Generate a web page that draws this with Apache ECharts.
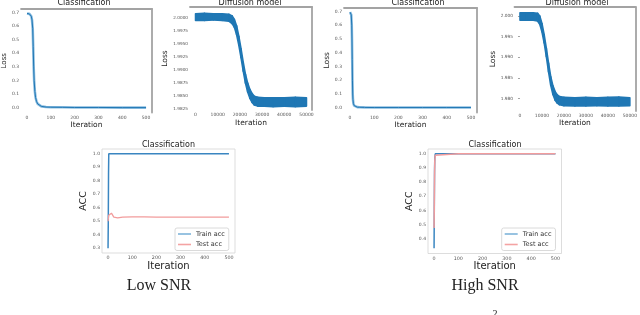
<!DOCTYPE html>
<html><head><meta charset="utf-8">
<script src="https://cdn.jsdelivr.net/npm/echarts@6/dist/echarts.min.js"></script>
<style>html,body{margin:0;padding:0;background:#fff;}#c{width:640px;height:315px;}</style>
</head><body><div id="c"></div>
<script>
// ---------- data ----------
// Low SNR, classification loss
const lowLossIter = [0, 5, 10, 15, 18, 21, 24, 26, 28, 30, 33, 36, 40, 45, 50, 60, 80, 100, 150, 200, 300, 400, 500];
const lowLoss     = [0.692, 0.691, 0.689, 0.683, 0.672, 0.645, 0.58, 0.45, 0.30, 0.20, 0.12, 0.075, 0.046, 0.028, 0.018, 0.010, 0.005, 0.004, 0.003, 0.002, 0.002, 0.001, 0.001];
// Low SNR, diffusion model loss (noise band: upper / lower envelope)
const lowDiffIter  = [0, 4000, 8000, 12000, 15000, 16500, 17500, 18500, 19500, 20500, 21500, 22500, 23500, 24500, 25500, 26500, 28000, 31000, 35000, 40000, 45000, 50000];
const lowDiffUpper = [2.0007, 2.0008, 2.0007, 2.0007, 2.0006, 2.0003, 1.9996, 1.9984, 1.9964, 1.9940, 1.9914, 1.9891, 1.9874, 1.9862, 1.9854, 1.9849, 1.9847, 1.9846, 1.9846, 1.9846, 1.9847, 1.9846];
const lowDiffLower = [1.9994, 1.9994, 1.9995, 1.9994, 1.9993, 1.9988, 1.9981, 1.9967, 1.9947, 1.9923, 1.9897, 1.9874, 1.9857, 1.9845, 1.9837, 1.9832, 1.9830, 1.9830, 1.9829, 1.9830, 1.9829, 1.9830];
// High SNR, classification loss
const highLossIter = [0, 3, 5, 7, 8, 9, 10, 11, 12, 14, 17, 20, 25, 30, 40, 60, 100, 200, 300, 400, 500];
const highLoss     = [0.695, 0.69, 0.675, 0.60, 0.50, 0.35, 0.20, 0.10, 0.06, 0.03, 0.015, 0.009, 0.005, 0.004, 0.003, 0.002, 0.001, 0.001, 0.001, 0.001, 0.001];
// High SNR, diffusion model loss
const highDiffIter  = [0, 3000, 6000, 8000, 9000, 10000, 11000, 12000, 13000, 14000, 15000, 16000, 17000, 18000, 20000, 25000, 30000, 35000, 40000, 45000, 50000];
const highDiffUpper = [2.0008, 2.0008, 2.0008, 2.0007, 2.0000, 1.9982, 1.9955, 1.9922, 1.9886, 1.9853, 1.9831, 1.9817, 1.9809, 1.9805, 1.9803, 1.9802, 1.9803, 1.9802, 1.9803, 1.9804, 1.9802];
const highDiffLower = [1.9990, 1.9990, 1.9990, 1.9988, 1.9980, 1.9962, 1.9935, 1.9902, 1.9865, 1.9832, 1.9810, 1.9796, 1.9789, 1.9785, 1.9783, 1.9782, 1.9782, 1.9783, 1.9782, 1.9782, 1.9783];
// Low SNR accuracy
const lowTrainIter = [0, 1, 2, 3, 100, 200, 300, 400, 500];
const lowTrainAcc  = [0.30, 0.50, 0.85, 1.0, 1.0, 1.0, 1.0, 1.0, 1.0];
const lowTestIter  = [0, 3, 6, 10, 14, 18, 24, 30, 40, 60, 100, 150, 200, 250, 300, 400, 500];
const lowTestAcc   = [0.50, 0.545, 0.54, 0.55, 0.56, 0.55, 0.53, 0.522, 0.525, 0.53, 0.533, 0.532, 0.531, 0.530, 0.531, 0.531, 0.531];
// High SNR accuracy
const highTrainIter = [0, 1, 2, 3, 5, 100, 200, 300, 400, 500];
const highTrainAcc  = [0.333, 0.62, 0.88, 0.97, 1.0, 1.0, 1.0, 1.0, 1.0, 1.0];
const highTestIter  = [0, 1, 2, 3, 5, 7, 100, 200, 300, 400, 500];
const highTestAcc   = [0.476, 0.65, 0.85, 0.95, 0.99, 1.0, 1.0, 1.0, 1.0, 1.0, 1.0];
// tick labels
const iterTicks500 = [0, 100, 200, 300, 400, 500];
const iterTicks50k = [0, 10000, 20000, 30000, 40000, 50000];
const lossTicks    = [0, 0.1, 0.2, 0.3, 0.4, 0.5, 0.6, 0.7];
const lowDiffTicks = [1.9825, 1.9850, 1.9875, 1.9900, 1.9925, 1.9950, 1.9975, 2.0000];
const highDiffTicks= [1.980, 1.985, 1.990, 1.995, 2.000];
const lowAccTicks  = [0.3, 0.4, 0.5, 0.6, 0.7, 0.8, 0.9, 1.0];
const highAccTicks = [0.4, 0.5, 0.6, 0.7, 0.8, 0.9, 1.0];

// ---------- helpers ----------
const FONT = 'DejaVu Sans';
const pairs = (xs, ys) => xs.map((x, i) => [x, ys[i]]);
const BLUE = '#1f77b4', TRAIN = '#3a86c1', TEST = '#f29c9c';

const grids = [
  {left: 18,    top: 9,   width: 134,   height: 103.5},
  {left: 190,   top: 7,   width: 122,   height: 103},
  {left: 344,   top: 8,   width: 133,   height: 104.5},
  {left: 514.5, top: 7,   width: 123,   height: 104},
  {left: 102,   top: 149, width: 133,   height: 104, show: true, borderColor: '#d4d4d4', borderWidth: 0.8},
  {left: 428,   top: 149, width: 133.5, height: 104.5, show: true, borderColor: '#d4d4d4', borderWidth: 0.8}
];

function xMain(gi, min, max, ticks, name, nameSize, nameGap, labSize) {
  return {gridIndex: gi, type: 'value', min, max, name, nameLocation: 'middle', nameGap,
    nameTextStyle: {fontFamily: FONT, fontSize: nameSize, color: '#222'},
    axisLine: {show: false}, axisTick: {show: false}, splitLine: {show: false},
    axisLabel: {customValues: ticks, fontSize: labSize, color: '#555', margin: 2.5, fontFamily: FONT,
      formatter: v => String(Math.round(v))}};
}
function yMain(gi, min, max, ticks, dec, name, nameSize, nameGap, labSize, tick) {
  return {gridIndex: gi, type: 'value', min, max, name, nameLocation: 'middle', nameGap,
    nameTextStyle: {fontFamily: FONT, fontSize: nameSize, color: '#222'},
    axisLine: {show: false}, splitLine: {show: false},
    axisTick: tick ? {show: true, customValues: ticks, length: 2, lineStyle: {color: '#666', width: 0.6}} : {show: false},
    axisLabel: {customValues: ticks, fontSize: labSize, color: '#555', margin: tick ? 1.5 : 2, fontFamily: FONT,
      formatter: v => v.toFixed(dec)}};
}
function spineX(gi, min, max) {
  return {gridIndex: gi, type: 'value', position: 'top', min, max,
    axisLine: {show: true, onZero: false, lineStyle: {color: '#a3a3a3', width: 1.8}},
    axisTick: {show: false}, axisLabel: {show: false}, splitLine: {show: false}};
}
function spineY(gi, min, max) {
  return {gridIndex: gi, type: 'value', position: 'right', min, max,
    axisLine: {show: true, onZero: false, lineStyle: {color: '#a3a3a3', width: 1.8}},
    axisTick: {show: false}, axisLabel: {show: false}, splitLine: {show: false}};
}

const xAxis = [
  xMain(0, -25, 525, iterTicks500, 'Iteration', 7.5, 7, 4.5),
  xMain(1, -2500, 52500, iterTicks50k, 'Iteration', 7.5, 9, 4.5),
  xMain(2, -25, 525, iterTicks500, 'Iteration', 7.5, 8, 4.5),
  xMain(3, -2500, 52500, iterTicks50k, 'Iteration', 7.5, 8, 4.5),
  xMain(4, -25, 525, iterTicks500, 'Iteration', 10, 7, 4.8),
  xMain(5, -25, 525, iterTicks500, 'Iteration', 10, 7, 4.8),
  spineX(0, -25, 525), spineX(1, -2500, 52500), spineX(2, -25, 525), spineX(3, -2500, 52500)
];
const yAxis = [
  yMain(0, -0.035, 0.725, lossTicks, 1, 'Loss', 7, 9.5, 4.5),
  yMain(1, 1.98225, 2.0020, lowDiffTicks, 4, 'Loss', 7.5, 18, 4.2),
  yMain(2, -0.035, 0.725, lossTicks, 1, 'Loss', 7.5, 9.5, 4.5),
  yMain(3, 1.9770, 2.0022, highDiffTicks, 3, 'Loss', 7.5, 17, 4.3, true),
  yMain(4, 0.265, 1.035, lowAccTicks, 1, 'ACC', 9.5, 10.5, 4.5),
  yMain(5, 0.2965, 1.0335, highAccTicks, 1, 'ACC', 9.5, 10, 4.5),
  spineY(0, -0.035, 0.725), spineY(1, 1.98225, 2.0020), spineY(2, -0.035, 0.725), spineY(3, 1.9770, 2.0022)
];

// noise band drawn as quads between the upper and lower envelopes
function band(gi, xs, upper, lower) {
  return {type: 'custom', xAxisIndex: gi, yAxisIndex: gi, silent: true, clip: true,
    data: xs.map((x, i) => [x, upper[i], lower[i]]),
    encode: {x: 0, y: [1, 2]},
    renderItem: (params, api) => {
      const i = params.dataIndex;
      if (i >= xs.length - 1) return null;
      const pts = [api.coord([xs[i], upper[i]]), api.coord([xs[i + 1], upper[i + 1]]),
                   api.coord([xs[i + 1], lower[i + 1]]), api.coord([xs[i], lower[i]])];
      return {type: 'polygon', shape: {points: pts},
        style: {fill: BLUE, stroke: BLUE, lineWidth: 1.6, lineJoin: 'round'}};
    }};
}

const series = [
  {type: 'line', xAxisIndex: 0, yAxisIndex: 0, symbol: 'none', data: pairs(lowLossIter, lowLoss), lineStyle: {color: '#8cbde0', width: 2.6}},
  {type: 'line', xAxisIndex: 0, yAxisIndex: 0, symbol: 'none', data: pairs(lowLossIter, lowLoss), lineStyle: {color: BLUE, width: 1}},
  band(1, lowDiffIter, lowDiffUpper, lowDiffLower),
  {type: 'line', xAxisIndex: 2, yAxisIndex: 2, symbol: 'none', data: pairs(highLossIter, highLoss), lineStyle: {color: '#8cbde0', width: 2.6}},
  {type: 'line', xAxisIndex: 2, yAxisIndex: 2, symbol: 'none', data: pairs(highLossIter, highLoss), lineStyle: {color: BLUE, width: 1}},
  band(3, highDiffIter, highDiffUpper, highDiffLower),
  {name: 'Train acc', type: 'line', xAxisIndex: 4, yAxisIndex: 4, symbol: 'none', data: pairs(lowTrainIter, lowTrainAcc), color: TRAIN, lineStyle: {color: TRAIN, width: 1.5}},
  {name: 'Test acc', type: 'line', xAxisIndex: 4, yAxisIndex: 4, symbol: 'none', data: pairs(lowTestIter, lowTestAcc), color: TEST, lineStyle: {color: TEST, width: 1.3}},
  {name: 'Train acc', type: 'line', xAxisIndex: 5, yAxisIndex: 5, symbol: 'none', data: pairs(highTrainIter, highTrainAcc), color: TRAIN, lineStyle: {color: TRAIN, width: 1.5}},
  {name: 'Test acc', type: 'line', xAxisIndex: 5, yAxisIndex: 5, symbol: 'none', data: pairs(highTestIter, highTestAcc), color: TEST, lineStyle: {color: TEST, width: 1.5}}
];

function legend(left) {
  return {left, top: 228, orient: 'vertical', icon: 'rect', itemWidth: 13, itemHeight: 1.6, itemGap: 3.5,
    padding: [2.5, 4, 2.5, 3], backgroundColor: '#fff', borderColor: '#d0d0d0', borderWidth: 0.8, borderRadius: 2,
    selectedMode: false,
    data: [{name: 'Train acc', itemStyle: {color: '#7fb4da'}}, {name: 'Test acc', itemStyle: {color: '#f4a3a3'}}],
    textStyle: {fontFamily: FONT, fontSize: 6.5, color: '#333', padding: [0, 0, 0, 0]}};
}

function ttl(text, x, top, size, family) {
  return {text, left: x, top, textAlign: 'center', padding: 0,
    textStyle: {fontFamily: family || FONT, fontSize: size, fontWeight: 'normal', color: '#222'}};
}

const chart = echarts.init(document.getElementById('c'), null, {renderer: 'canvas'});
chart.setOption({
  animation: false,
  backgroundColor: '#fff',
  title: [
    ttl('Classification', 84, -1.5, 8),
    ttl('Diffusion model', 250, -1.5, 8),
    ttl('Classification', 418, -1.5, 8),
    ttl('Diffusion model', 577, -1.5, 8),
    ttl('Classification', 168.5, 140.5, 8),
    ttl('Classification', 495, 140.5, 8),
    ttl('Low SNR', 159, 278, 16, 'Liberation Serif'),
    ttl('High SNR', 485, 278, 16, 'Liberation Serif'),
    ttl('2', 495, 309, 10, 'Liberation Serif')
  ],
  legend: [legend(175), legend(501.7)],
  grid: grids,
  xAxis, yAxis, series
});
</script></body></html>
